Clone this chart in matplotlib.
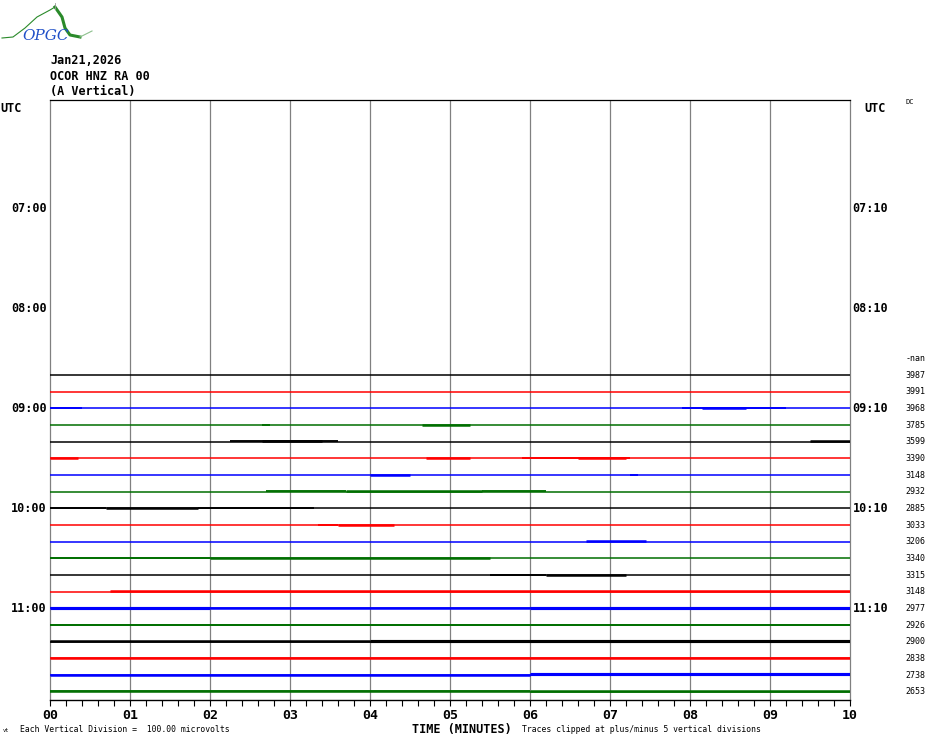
import matplotlib
matplotlib.use("Agg")
import matplotlib.pyplot as plt
from matplotlib.ticker import MultipleLocator

# helicorder layout: one row every 10 minutes starting 06:00 UTC
row_minutes = 10
first_trace_row = 16          # 08:40
last_trace_row = 35           # 11:50
trace_colors = ["black", "red", "blue", "#006e00"]

hour_rows = [6, 12, 18, 24, 30]
left_hour_labels = ["07:00", "08:00", "09:00", "10:00", "11:00"]
right_hour_labels = ["07:10", "08:10", "09:10", "10:10", "11:10"]

# per-row DC offsets printed at the right (row 15 has no data)
dc_rows = list(range(15, 36))
dc_labels = ["-nan", "3987", "3991", "3968", "3785", "3599", "3390", "3148",
             "2932", "2885", "3033", "3206", "3340", "3315", "3148", "2977",
             "2926", "2900", "2838", "2738", "2653"]

# stretches of visible noise: (row, start minute, end minute, level 1..3)
noise_segments = [
    (18, 0.0, 0.4, 1), (18, 7.9, 9.2, 1), (18, 8.15, 8.7, 2),
    (19, 2.65, 2.75, 1), (19, 4.65, 5.25, 2),
    (20, 2.25, 3.6, 1), (20, 2.65, 3.4, 2), (20, 9.5, 10.0, 2),
    (21, 0.0, 0.35, 2), (21, 4.7, 5.25, 2), (21, 5.9, 7.25, 1), (21, 6.6, 7.2, 2),
    (22, 4.0, 4.5, 2), (22, 7.25, 7.35, 1),
    (23, 2.7, 3.7, 1), (23, 3.7, 5.4, 2), (23, 5.4, 6.2, 1),
    (24, 0.0, 0.7, 1), (24, 0.7, 1.85, 2), (24, 1.85, 3.3, 1),
    (25, 3.35, 3.6, 1), (25, 3.6, 4.3, 2),
    (26, 6.7, 7.45, 2),
    (27, 0.0, 2.0, 1), (27, 2.0, 5.5, 2),
    (28, 5.5, 6.2, 1), (28, 6.2, 7.2, 2),
    (29, 0.75, 10.0, 2),
    (30, 0.0, 2.0, 3), (30, 2.0, 6.0, 2), (30, 6.0, 10.0, 3),
    (31, 0.0, 10.0, 1),
    (32, 0.0, 4.0, 2), (32, 4.0, 10.0, 3),
    (33, 0.0, 10.0, 2),
    (34, 0.0, 6.0, 2), (34, 6.0, 10.0, 3),
    (35, 0.0, 6.0, 1), (35, 6.0, 10.0, 2),
]

mono = "DejaVu Sans Mono"
W, H = 930, 744
fig = plt.figure(figsize=(W / 100, H / 100), dpi=100)

# overlay in pixel coordinates for the free text and logo
ov = fig.add_axes([0, 0, 1, 1])
ov.set_xlim(0, W)
ov.set_ylim(H, 0)
ov.axis("off")

ax = fig.add_axes([50 / W, (H - 700) / H, 800 / W, 600 / H])
ax.set_xlim(0, 10)
ax.set_ylim(35.5 * row_minutes, -0.5 * row_minutes)
ax.set_facecolor("none")

for spine in ["left", "right"]:
    ax.spines[spine].set_color("#808080")
    ax.spines[spine].set_linewidth(0.9)
ax.spines["top"].set_color("black")
ax.spines["top"].set_linewidth(0.9)
ax.spines["bottom"].set_color("black")
ax.spines["bottom"].set_linewidth(1.0)

for m in range(1, 10):
    ax.axvline(m, color="#808080", lw=0.9, zorder=1)

# traces
for row in range(first_trace_row, last_trace_row + 1):
    y = row * row_minutes
    ax.plot([0, 10], [y, y], color=trace_colors[row % 4], lw=1.1, zorder=3,
            solid_capstyle="butt")

for row, x0, x1, level in noise_segments:
    y = row * row_minutes - 0.15 * level
    ax.plot([x0, x1], [y, y], color=trace_colors[row % 4], lw=0.9 + 0.45 * level,
            zorder=3, solid_capstyle="butt")

ax.xaxis.set_minor_locator(MultipleLocator(0.2))
ax.set_xticks(range(11))
ax.set_xticklabels(["%02d" % i for i in range(11)], family=mono,
                   fontweight="bold", fontsize=9.5)
ax.tick_params(axis="x", which="both", direction="out", length=4.5, width=0.8,
               pad=2, top=False)
ax.set_yticks([])

# hour labels
ytr = ax.get_yaxis_transform()
for row, lab_l, lab_r in zip(hour_rows, left_hour_labels, right_hour_labels):
    y = row * row_minutes
    ax.text(-0.004, y, lab_l, ha="right", va="center", family=mono,
            fontweight="bold", fontsize=8.5, transform=ytr)
    ax.text(1.003, y, lab_r, ha="left", va="center", family=mono,
            fontweight="bold", fontsize=8.5, transform=ytr)
ax.text(-0.062, 0, "UTC", ha="left", va="center", family=mono,
        fontweight="bold", fontsize=8.5, transform=ytr)
ax.text(1.018, 0, "UTC", ha="left", va="center", family=mono,
        fontweight="bold", fontsize=8.5, transform=ytr)
ax.text(1.069, -0.4 * row_minutes, "DC", ha="left", va="center", family=mono,
        fontsize=5, transform=ytr)

for row, lab in zip(dc_rows, dc_labels):
    ax.text(1.069, row * row_minutes, lab, ha="left", va="center", family=mono,
            fontsize=6, transform=ytr)

# header
for y, s in [(61, "Jan21,2026"), (76, "OCOR HNZ RA 00"), (91, "(A Vertical)")]:
    ov.text(50, y, s, ha="left", va="center", family=mono, fontweight="bold",
            fontsize=8.5)

# footer
ov.text(462, 729, "TIME (MINUTES)", ha="center", va="center", family=mono,
        fontweight="bold", fontsize=8.5)
ov.text(20, 730, "Each Vertical Division =  100.00 microvolts", ha="left",
        va="center", family=mono, fontsize=5.9)
ov.text(522, 730, "Traces clipped at plus/minus 5 vertical divisions", ha="left",
        va="center", family=mono, fontsize=5.9)
ov.text(3, 731, "vt", ha="left", va="center", family=mono, fontsize=4)

# logo
ov.plot([2, 13, 25, 37, 50, 55], [38, 37, 28, 17, 10, 7], color="#2a8a2a", lw=0.8)
ov.plot([55, 62, 65, 70, 80], [7, 17, 28, 35, 37], color="#2a8a2a", lw=2.2)
ov.plot([80, 92], [37, 31], color="#8cc08c", lw=0.8)
ov.plot([55, 55], [3, 9], color="#999999", lw=0.6)
ov.text(22, 36, "OPGC", ha="left", va="center", color="#2050c8",
        style="italic", fontsize=11, family="DejaVu Serif")

fig.savefig("out.png", dpi=100)
